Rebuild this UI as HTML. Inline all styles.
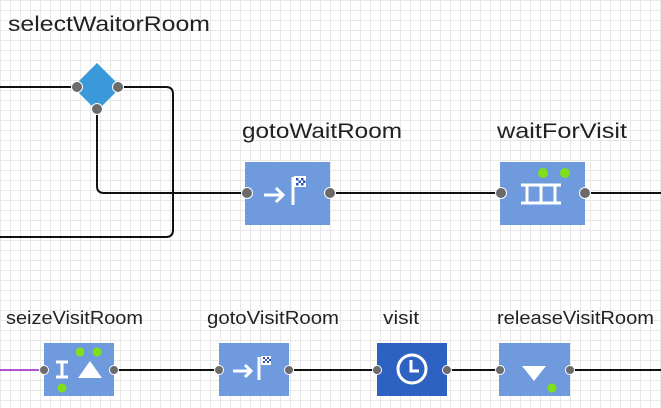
<!DOCTYPE html>
<html><head><style>
body{margin:0;width:661px;height:408px;overflow:hidden;background:#fff;
background-image:linear-gradient(#e8e8e8 1px,transparent 1px),linear-gradient(90deg,#e8e8e8 1px,transparent 1px);background-size:10px 10px;font-family:"Liberation Sans",sans-serif;}
</style></head><body>
<svg width="661" height="408" style="position:absolute;left:0;top:0" font-family="Liberation Sans, sans-serif">
<g fill="none" stroke="#111" stroke-width="2">
<path d="M0 87 H77"/>
<path d="M118 87 H166 Q173 87 173 94 V230 Q173 237 166 237 H0"/>
<path d="M97 109 V186 Q97 193 104 193 H247"/>
<path d="M330 193 H501"/>
<path d="M585 193 H661"/>
<path d="M114 370 H219"/><path d="M289 370 H377"/><path d="M447 370 H499"/><path d="M570 370 H661"/>
</g>
<path d="M0 370 H44" stroke="#a020c0" stroke-width="1.5"/>
<polygon points="97,63 121,87 97,111 73,87" fill="#3a9ad9"/>
<g fill="#222" font-size="21" lengthAdjust="spacingAndGlyphs">
<text x="8" y="31" textLength="202" lengthAdjust="spacingAndGlyphs">selectWaitorRoom</text>
<text x="242" y="138" textLength="160" lengthAdjust="spacingAndGlyphs">gotoWaitRoom</text>
<text x="497" y="138" textLength="130" lengthAdjust="spacingAndGlyphs">waitForVisit</text>
</g>
<g fill="#222" font-size="18">
<text x="6" y="324" textLength="137" lengthAdjust="spacingAndGlyphs">seizeVisitRoom</text>
<text x="207" y="324" textLength="132" lengthAdjust="spacingAndGlyphs">gotoVisitRoom</text>
<text x="383" y="324" textLength="36" lengthAdjust="spacingAndGlyphs">visit</text>
<text x="497" y="324" textLength="157" lengthAdjust="spacingAndGlyphs">releaseVisitRoom</text>
</g>
<!-- gotoWaitRoom -->
<rect x="245" y="162" width="85" height="63" fill="#6f9bde"/>
<g stroke="#fff" stroke-width="3" fill="none"><path d="M264 195 H282"/><path d="M276 188 L283 195 L276 202"/><path d="M293 205 V177"/></g>
<rect x="294" y="176" width="12" height="11" fill="#fff"/>
<g fill="#2850c0"><rect x="296" y="178" width="2.5" height="2.5"/><rect x="301" y="178" width="2.5" height="2.5"/><rect x="298.5" y="180.5" width="2.5" height="2.5"/><rect x="303" y="180.5" width="2.5" height="2.5"/><rect x="296" y="183" width="2.5" height="2.5"/><rect x="301" y="183" width="2.5" height="2.5"/></g>
<!-- waitForVisit -->
<rect x="500" y="162" width="85" height="63" fill="#6f9bde"/>
<g stroke="#fff" stroke-width="3" fill="none"><path d="M521 185 H561 M527 185 V203 M541 185 V203 M555 185 V203 M521 203 H561"/></g>
<circle cx="543" cy="173" r="5" fill="#7de01a"/><circle cx="565" cy="173" r="5" fill="#7de01a"/>
<!-- seize -->
<rect x="44" y="343" width="70" height="53" fill="#6f9bde"/>
<g stroke="#fff" stroke-width="3" fill="none"><path d="M56 362 H68 M56 377 H68 M62 362 V377"/></g>
<polygon points="78,378 90,361 102,378" fill="#fff"/>
<circle cx="80" cy="352" r="4.5" fill="#7de01a"/><circle cx="97" cy="352" r="4.5" fill="#7de01a"/><circle cx="62" cy="388" r="4.5" fill="#7de01a"/>
<!-- gotoVisit -->
<rect x="219" y="343" width="70" height="53" fill="#6f9bde"/>
<g stroke="#fff" stroke-width="3" fill="none"><path d="M233 371 H250"/><path d="M245 365 L251 371 L245 377"/><path d="M259 380 V357"/></g>
<rect x="261" y="356" width="10" height="9" fill="#fff"/>
<g fill="#2850c0"><rect x="263" y="357" width="2" height="2"/><rect x="267" y="357" width="2" height="2"/><rect x="265" y="359" width="2" height="2"/><rect x="269" y="359" width="2" height="2"/><rect x="263" y="361" width="2" height="2"/><rect x="267" y="361" width="2" height="2"/></g>
<!-- visit -->
<rect x="377" y="343" width="70" height="53" fill="#2d62c2"/>
<circle cx="412" cy="369" r="14" fill="none" stroke="#fff" stroke-width="3"/>
<path d="M411 360 V371 H419" stroke="#fff" stroke-width="3" fill="none"/>
<!-- release -->
<rect x="499" y="343" width="71" height="53" fill="#6f9bde"/>
<polygon points="522,366 546,366 534,381" fill="#fff"/>
<circle cx="552" cy="388" r="4.5" fill="#7de01a"/>
<!-- ports -->
<g fill="#6b6b6b" stroke="#fff" stroke-width="1">
<circle cx="77" cy="87" r="5.5"/><circle cx="118" cy="87" r="5.5"/><circle cx="97" cy="109" r="5.5"/>
<circle cx="247" cy="193" r="5.5"/><circle cx="330" cy="193" r="5.5"/>
<circle cx="501" cy="193" r="5.5"/><circle cx="585" cy="193" r="5.5"/>
<circle cx="44" cy="370" r="4.5"/><circle cx="114" cy="370" r="4.5"/>
<circle cx="219" cy="370" r="4.5"/><circle cx="289" cy="370" r="4.5"/>
<circle cx="377" cy="370" r="4.5"/><circle cx="447" cy="370" r="4.5"/>
<circle cx="500" cy="370" r="4.5"/><circle cx="570" cy="370" r="4.5"/>
</g>
</svg>
</body></html>
